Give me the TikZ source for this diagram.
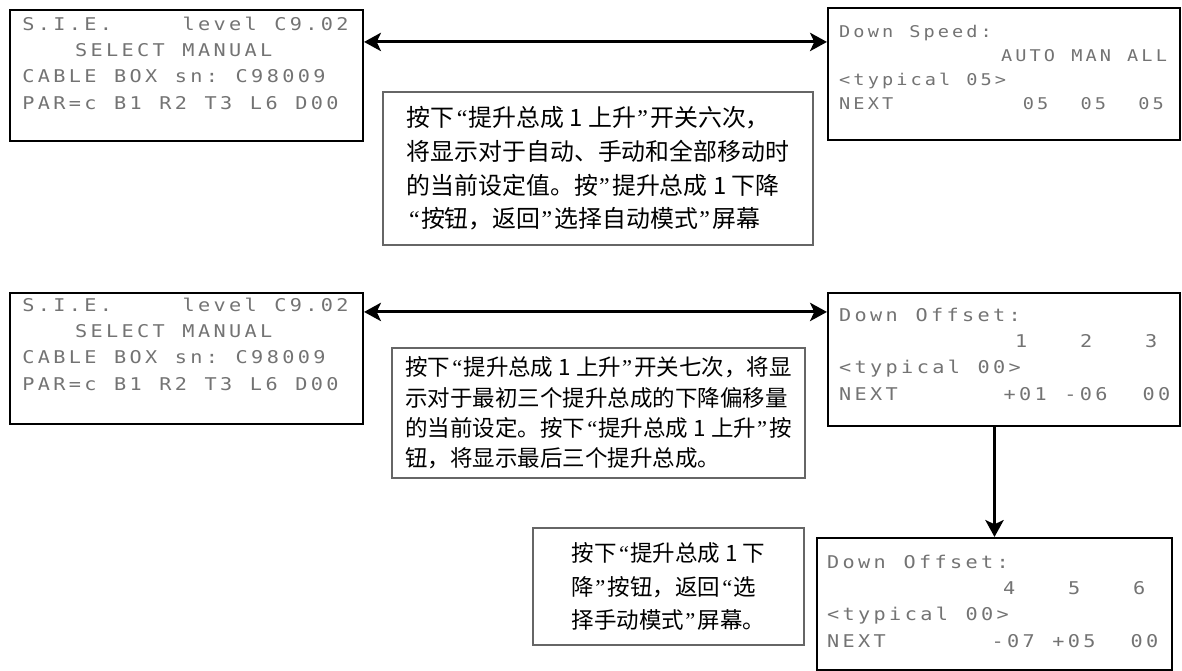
\documentclass[tikz,border=0pt]{standalone}
\usepackage{fontspec}
\usetikzlibrary{arrows.meta,positioning}
\newfontfamily\cjk{Noto Sans CJK SC}
\newfontfamily\qfont{Liberation Serif}
\newfontfamily\lcdfont[FakeStretch=1.15,LetterSpace=19,WordSpace=1.135]{DejaVu Sans Mono}
\newcommand\oq{\kern0.1em{\qfont“}\kern0.05em}
\newcommand\cq{\kern0.05em{\qfont”}\kern0.1em}
\definecolor{lcdgray}{gray}{0.45}
\tikzset{
  lcd/.style={draw, line width=1.5pt, inner sep=0pt},
  lcdtext/.style={inner sep=0pt, align=left, text=lcdgray, font=\lcdfont\fontsize{12.5}{18.6}\selectfont},
  note/.style={draw=black!60, line width=1.4pt, inner sep=0pt, align=left},
  link/.style={line width=2.2pt, -{Stealth[length=12pt,width=13pt,inset=3pt]}},
  dlink/.style={line width=2.2pt, {Stealth[length=12pt,width=13pt,inset=3pt]}-{Stealth[length=12pt,width=13pt,inset=3pt]}},
}
\begin{document}
\begin{tikzpicture}
\useasboundingbox (0,0) rectangle (29.55,-16.775);

\node[lcd, minimum width=8.825cm, minimum height=3.275cm] (sel1) at (4.6625,-1.8875) {};
\node[lcdtext, below right=0.2cm and 0.33cm of sel1.north west] (sel1t) {S.I.E.~~~~level~C9.02\\~~~SELECT~MANUAL\\CABLE~BOX~sn:~C98009\\PAR=c~B1~R2~T3~L6~D00};

\node[lcd, minimum width=8.8cm, minimum height=3.3cm] (speed) at (25.1,-1.85) {};
\node[lcdtext, font=\lcdfont\fontsize{11.5}{17}\selectfont, below right=0.46cm and 0.3cm of speed.north west] (speedt) {Down~Speed:\\~~~~~~~~~~AUTO~MAN~ALL\\<typical~05>\\NEXT~~~~~~~~05~~05~~05};

\node[note, minimum width=10.75cm, minimum height=3.825cm, font=\cjk\fontsize{17}{24}\selectfont] (tip1) at (14.95,-4.2125) {按下\oq 提升总成 1 上升\cq 开关六次，\\将显示对于自动、手动和全部移动时\\的当前设定值。按\cq 提升总成 1 下降\\\oq 按钮，返回\cq 选择自动模式\cq 屏幕};

\node[lcd, minimum width=8.825cm, minimum height=3.275cm] (sel2) at (4.6625,-8.9625) {};
\node[lcdtext, below right=0.15cm and 0.33cm of sel2.north west] (sel2t) {S.I.E.~~~~level~C9.02\\~~~SELECT~MANUAL\\CABLE~BOX~sn:~C98009\\PAR=c~B1~R2~T3~L6~D00};

\node[lcd, minimum width=8.8cm, minimum height=3.325cm] (offa) at (25.1,-8.9875) {};
\node[lcdtext, below right=0.4cm and 0.3cm of offa.north west] (offat) {Down~Offset:\\~~~~~~~~~~1~~~2~~~3\\<typical~00>\\NEXT~~~~~~+01~-06~~00};

\node[note, minimum width=10.325cm, minimum height=3.25cm, font=\cjk\fontsize{16}{21.6}\selectfont] (tip2) at (14.9625,-10.325) {按下\oq 提升总成 1 上升\cq 开关七次，将显\\示对于最初三个提升总成的下降偏移量\\的当前设定。按下\oq 提升总成 1 上升\cq 按\\钮，将显示最后三个提升总成。};

\node[lcd, minimum width=8.875cm, minimum height=3.3cm] (offb) at (24.8625,-15.1) {};
\node[lcdtext, below right=0.45cm and 0.275cm of offb.north west] (offbt) {Down~Offset:\\~~~~~~~~~~4~~~5~~~6\\<typical~00>\\NEXT~~~~~~-07~+05~~00};

\node[note, minimum width=6.775cm, minimum height=2.925cm, font=\cjk\fontsize{16}{24}\selectfont] (tip3) at (16.7125,-14.6625) {按下\oq 提升总成 1 下\\降\cq 按钮，返回\oq 选\\择手动模式\cq 屏幕。};

\draw[dlink] ([yshift=-0.825cm]sel1.north east) -- ([yshift=-0.825cm]sel1.north east -| speed.west);
\draw[dlink] ([yshift=-0.5cm]sel2.north east) -- ([yshift=-0.5cm]sel2.north east -| offa.west);
\draw[link] (offa.south -| offb.north) -- (offb.north);
\end{tikzpicture}
\end{document}
